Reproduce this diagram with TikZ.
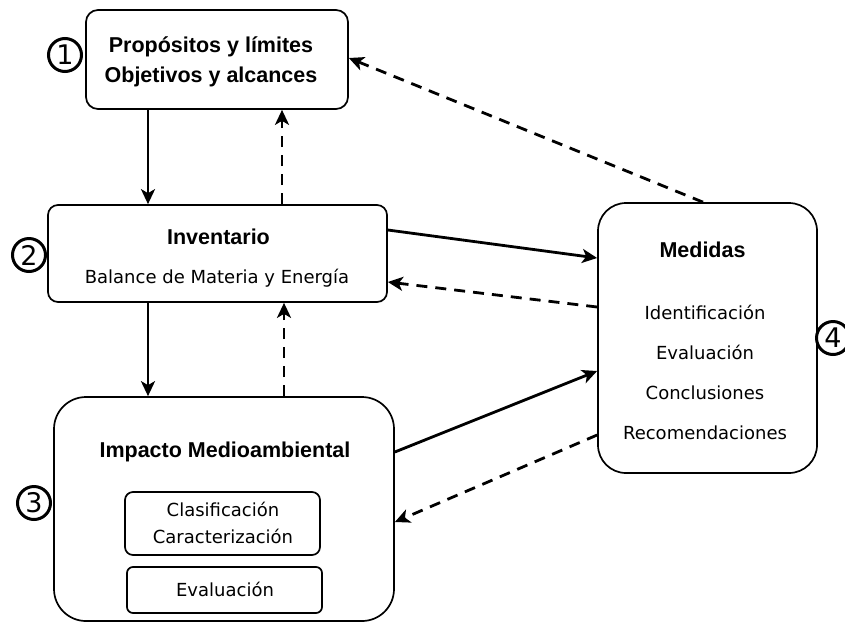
\documentclass[tikz,border=0pt]{standalone}
\usepackage{fontspec}
\setmainfont{DejaVu Sans}
\newfontfamily\titlefont{Liberation Sans}
\usetikzlibrary{arrows.meta,calc}
\begin{document}
\begin{tikzpicture}[x=1pt,y=-1pt,
  box/.style={draw, line width=1.7pt, inner sep=0pt, fill=white},
  ttl/.style={font=\titlefont\bfseries\fontsize{21.5}{30}\selectfont, align=center, inner sep=0pt},
  txt/.style={font=\fontsize{18}{27}\selectfont, align=center, inner sep=0pt},
  num/.style={draw, circle, line width=3pt, minimum size=33pt, inner sep=0pt, font=\fontsize{27}{27}\selectfont},
  solidarrow/.style={line width=2.8pt, -{Stealth[length=15pt,width=14pt,inset=4pt]}},
  dasharrow/.style={solidarrow, dash pattern=on 11pt off 8pt}]
\useasboundingbox (0,0) rectangle (845,622);
\fill[white] (0,0) rectangle (845,622);

% boxes
\node[box, rounded corners=12pt, minimum width=262pt, minimum height=99pt] (b1) at (217,59.5) {};
\node[box, rounded corners=10pt, minimum width=339pt, minimum height=97pt] (b2) at (217.5,253.5) {};
\node[box, rounded corners=32pt, minimum width=340pt, minimum height=224pt] (b3) at (224,509) {};
\node[box, rounded corners=28pt, minimum width=219pt, minimum height=270pt] (b4) at (707.5,338) {};
\node[box, rounded corners=8pt, minimum width=195pt, minimum height=63pt] (b3a) at (222.5,523.5) {};
\node[box, rounded corners=6pt, minimum width=195pt, minimum height=46pt] (b3b) at (224.5,590) {};

% texts
\node[ttl] (t1) at (211,62) {Propósitos y límites\\Objetivos y alcances};
\node[ttl] (t2) at (218.5,237) {Inventario};
\node[txt] (t2b) at (217,278) {Balance de Materia y Energía};
\node[ttl] (t3) at (225,452) {Impacto Medioambiental};
\node[txt] (t3a) at (223,523) {Clasificación\\Caracterización};
\node[txt] (t3b) at (225,589) {Evaluación};
\node[ttl] (t4) at (702.5,250) {Medidas};
\node[txt, font=\fontsize{18}{40}\selectfont] (t4b) at (705,372) {Identificación\\Evaluación\\Conclusiones\\Recomendaciones};

% circled numbers
\node[num] (n1) at (65,55) {1};
\node[num] (n2) at (29,255) {2};
\node[num] (n3) at (34,503) {3};
\node[num] (n4) at (833,338) {4};

% connectors
\draw[solidarrow] ([xshift=-69pt]b1.south) -- ([xshift=-69pt]b1.south |- b2.north);
\draw[dasharrow] ([xshift=65pt]b1.south |- b2.north) -- ([xshift=65pt]b1.south);
\draw[solidarrow] ([xshift=-69.5pt]b2.south) -- ([xshift=-69.5pt]b2.south |- b3.north);
\draw[dasharrow] ([xshift=66.5pt]b2.south |- b3.north) -- ([xshift=66.5pt]b2.south);
\draw[solidarrow] ([yshift=23.5pt]b2.east) -- ([yshift=80pt]b4.west);
\draw[dasharrow] ([yshift=31pt]b4.west) -- ([yshift=-28.5pt]b2.east);
\draw[solidarrow] ([yshift=57pt]b3.east) -- ([yshift=-33pt]b4.west);
\draw[dasharrow] ([yshift=-97pt]b4.west) -- ([yshift=-13pt]b3.east);
\draw[dasharrow] ([xshift=-4.5pt]b4.north) -- ([yshift=1.5pt]b1.east);
\end{tikzpicture}
\end{document}
